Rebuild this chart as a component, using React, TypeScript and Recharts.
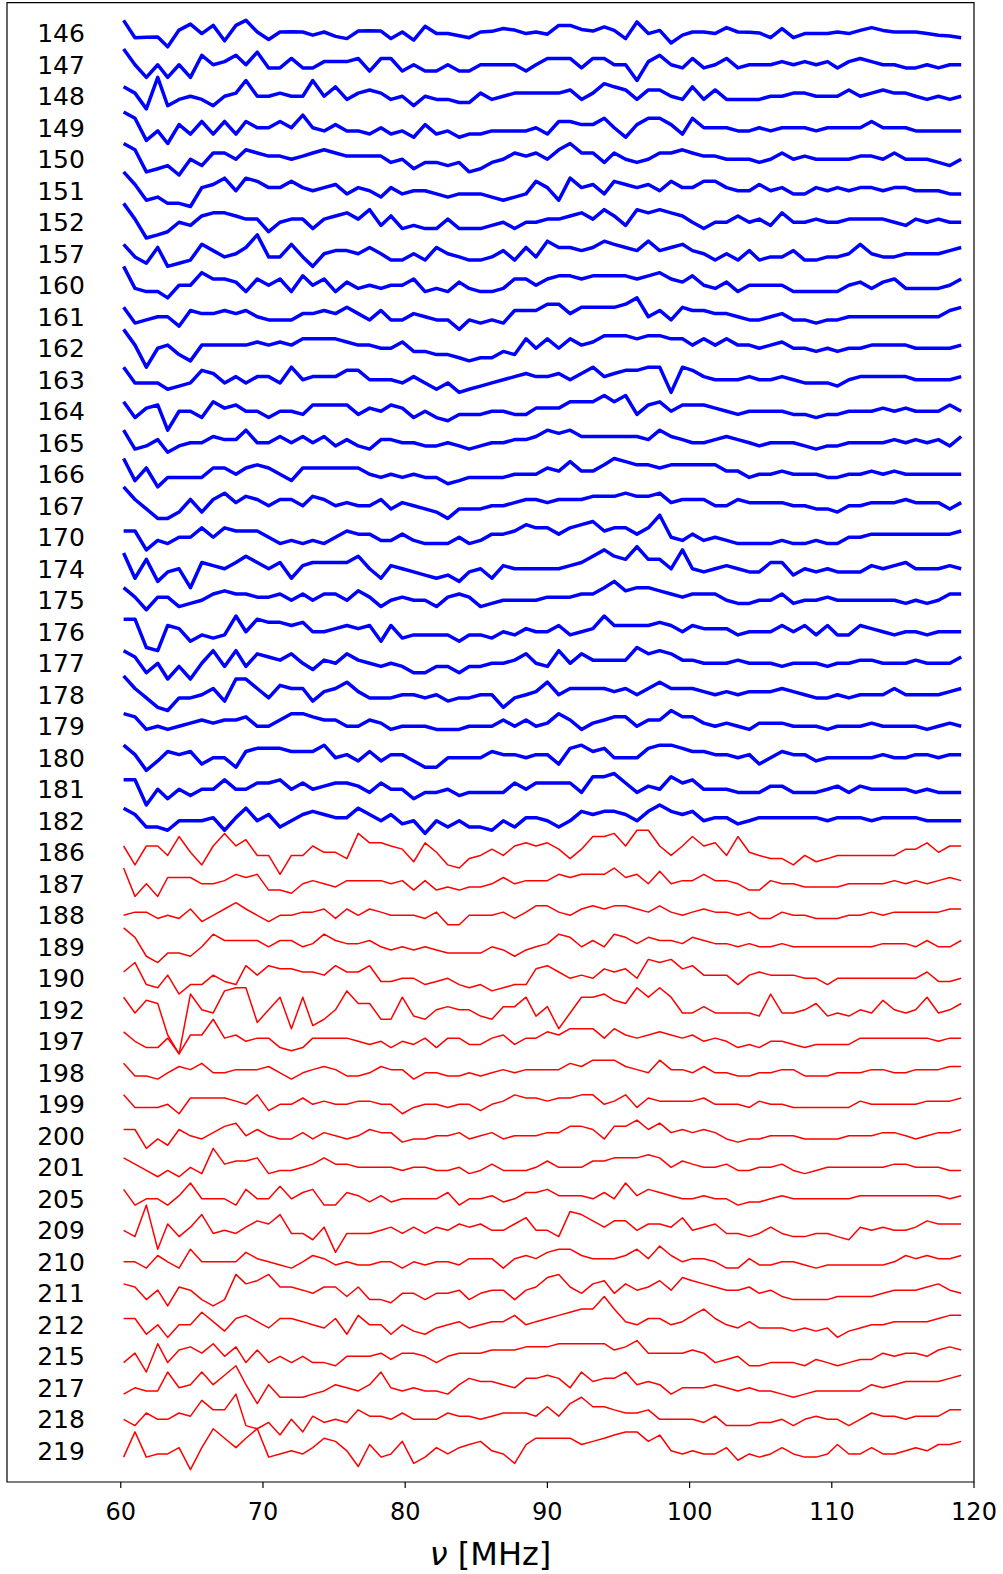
import { Line, LineChart, ReferenceArea, ReferenceDot, XAxis, YAxis } from "recharts";

const freqs = [
  60.2, 61.0, 61.8, 62.6, 63.3, 64.1, 64.9, 65.7, 66.5, 67.3, 68.1, 68.8, 69.6, 70.4, 71.2, 72.0, 72.8, 73.5, 74.3,
  75.1, 75.9, 76.7, 77.5, 78.3, 79.0, 79.8, 80.6, 81.4, 82.2, 83.0, 83.8, 84.5, 85.3, 86.1, 86.9, 87.7, 88.5, 89.2,
  90.0, 90.8, 91.6, 92.4, 93.2, 94.0, 94.7, 95.5, 96.3, 97.1, 97.9, 98.7, 99.5, 100.2, 101.0, 101.8, 102.6, 103.4,
  104.2, 104.9, 105.7, 106.5, 107.3, 108.1, 108.9, 109.7, 110.4, 111.2, 112.0, 112.8, 113.6, 114.4, 115.2, 115.9,
  116.7, 117.5, 118.3, 119.1,
];

const blueIds = ["146", "147", "148", "149", "150", "151", "152", "157", "160", "161", "162", "163", "164", "165", "166", "167", "170", "174", "175", "176", "177", "178", "179", "180", "181", "182"];
const redIds = ["186", "187", "188", "189", "190", "192", "197", "198", "199", "200", "201", "205", "209", "210", "211", "212", "215", "217", "218", "219"];

const xTicks = [60, 70, 80, 90, 100, 110, 120];

// deviations from each trace's own baseline, positive = downward
const d146 = [-4.1,1.4,1.3,1.2,4.3,-1,-2.9,0.1,-2.5,2.4,-2.5,-4.1,-0.4,2,-0.4,-0.5,-0.4,0.6,-0.4,1,1.7,-0.7,-0.8,-0.7,1.7,-0.4,2.2,-2.2,0.1,0.1,0.8,1.4,-0.4,-0.6,-1.5,-1,0.1,-0.4,0.3,-2.5,-2.5,-1.2,-0.7,-2,-0.9,1.7,-3.6,0.1,-0.9,3.1,0.6,-0.4,-0.4,0.1,-1.8,-0.4,-0.3,-0.1,1.4,-1.5,1.4,0.1,0.1,0.1,-0.4,0.1,-0.9,-1.8,-0.9,-0.4,-0.4,-0.4,0.1,0.6,0.9,1.4];
const d147 = [-5,0,4,0,4,0,4,-3,0,-1,-3,0,-4,1,1,-2,1,1,-1,-1,-1,-2,2,-2,-2,2,0,2,2,0,2,2,0,0,0,0,2,0,-2,-2,-2,1,-2,-2,0,0,5,-1,-3,0,1,-2,1,0,-2,1,0,0,0,-1,0,-1,0,-1,1,-1,-2,-1,0,0,1,1,0,1,0,0];
const d148 = [-3,-1,4,-6,3,1,0,1,3,0,-1,-5,0,0,-1,0,0,-5,0,-3,1,-1,-2,-1,1,0,3,0,1,1,2,2,-1,1,0,-1,-1,-1,-1,-1,-2,1,-1,-4,-3,-2,1,-2,-2,0,1,-3,1,-2,1,1,1,1,0,0,-1,-1,0,0,0,-2,0,-1,-2,-1,-1,0,1,0,1,0];
const d149 = [-5,-3,4,1,5,-1,2,-2,2,-2,2,-2,0,0,-2,0,-4,0,1,-1,1,1,2,0,2,1,3,-1,2,1,3,2,2,1,1,1,1,0,2,-2,-2,-1,-1,-3,0,3,-1,-3,-3,-1,2,-3,0,0,0,1,1,0,1,0,0,0,1,0,0,0,0,-2,0,0,0,1,1,1,1,1];
const d150 = [-5,-3,4,3,2,5,0,2,-2,-2,0,-3,-2,-1,-1,0,-1,-2,-3,-2,-1,-1,-1,-1,1,0,3,1,1,2,1,4,3,1,0,-2,-1,-2,0,-3,-5,-2,-2,1,-2,0,1,0,-2,-2,-3,-2,-1,-1,0,0,0,1,0,-2,0,-1,0,0,0,0,-1,-1,0,-2,0,0,0,1,2,0];
const d151 = [-6,-2,3,2,4,4,5,-1,-2,-4,0,-4,-3,-1,-1,-3,-1,0,-1,-2,1,-1,0,2,-1,1,0,0,1,2,1,1,1,2,3,2,1,-3,-1,3,-4,-1,-2,1,-3,-2,-1,-2,0,-3,-1,-1,-3,-3,-1,0,0,-2,0,-1,1,1,-1,0,-1,0,-1,-1,0,-1,-1,0,0,0,1,1];
const d152 = [-6,-1,5,4,3,0,1,-2,-3,-3,-2,-1,-1,3,0,-1,-1,2,-1,-2,-3,-1,-4,1,-2,2,1,2,2,-1,2,2,2,1,0,2,0,0,-1,-1,-2,-3,-1,-4,-2,1,-4,-3,-4,-3,-2,0,2,0,0,-2,0,-1,1,-3,0,0,-1,0,0,-1,-1,-1,-1,0,1,-1,0,-1,0,0];
const d157 = [-3,1,3,-2,4,3,2,-3,-1,1,0,-2,-6,1,1,-3,1,4,0,-1,-1,0,-2,0,2,2,0,2,-2,0,1,2,2,1,-1,2,-2,1,-4,-2,-2,-1,-2,-4,-3,-2,-1,-4,-1,-2,-3,-1,0,2,0,2,-1,2,1,1,-1,2,2,1,1,0,-3,0,1,1,0,0,0,0,-1,-2];
const d160 = [-6,1,2,2,4,0,0,-4,-2,-2,-1,2,-2,0,-2,2,-3,0,-2,2,-1,1,0,1,0,0,-2,2,1,2,-1,1,2,2,1,-2,-2,0,-2,-3,-3,-2,-3,-3,-3,-3,-2,-3,-4,-2,-1,-3,0,1,-1,2,0,0,0,0,2,2,2,2,2,0,-1,1,-1,-2,1,1,1,1,0,-2];
const d161 = [-3,2,1,0,0,3,-2,-1,-1,-2,-1,-2,0,1,1,1,-1,-1,-2,-1,-3,-1,1,-2,1,1,-1,0,1,1,4,1,2,1,2,-2,-2,-2,-4,-4,-1,-3,-3,-3,-3,-4,-6,0,-2,1,-3,-2,-2,-1,-1,0,1,1,0,-1,1,1,2,1,1,0,0,0,0,0,0,0,0,0,-2,-3];
const d162 = [-6,-1,6,0,-1,2,4,-1,-1,-1,-1,-1,-2,-1,-2,-1,-3,-3,-3,-3,-2,-1,-1,0,0,-2,1,1,2,2,3,4,3,3,1,2,-3,0,-3,0,-3,-1,-2,-4,-4,-4,-3,-4,-4,-3,-3,-1,-3,-1,-3,-1,-1,0,-1,-2,0,0,1,0,1,0,0,-1,-1,-1,-1,0,0,0,0,-1];
const d163 = [-4,1,1,1,3,2,1,-3,-2,1,-1,1,-1,-1,1,-4,0,-1,-1,-1,-3,-3,0,0,0,1,-1,1,3,1,4,3,2,1,0,-1,-2,-1,-1,-2,0,-2,-4,-1,-2,-3,-3,-4,-4,4,-4,-3,-1,0,0,0,-1,0,0,-1,0,1,1,1,2,0,-1,-1,-1,-1,-1,0,0,0,0,-1];
const d164 = [-3,2,-1,-2,6,0,0,2,-3,-1,-2,0,0,2,0,0,1,-2,-2,-2,-2,1,-1,0,-2,-1,2,0,2,3,1,1,1,0,0,1,1,-1,-1,-1,-3,-3,-3,-5,-3,-5,1,-2,-3,0,-2,-2,-2,-1,0,1,0,0,0,0,1,1,2,1,1,0,0,0,-1,0,-1,0,0,0,-2,0];
const d165 = [-4,2,1,-1,3,1,0,0,-2,-1,-1,-4,0,0,-2,0,-2,0,-2,1,-1,1,2,-1,-1,0,0,1,1,0,1,2,1,0,0,-1,-1,-2,-4,-3,-4,-2,-2,-2,-2,-2,-2,-1,-4,-2,-1,0,0,-1,-2,-1,0,1,0,0,0,1,2,1,1,0,0,0,0,-1,0,-1,0,-1,1,-2];
const d166 = [-5,2,-2,4,1,1,1,1,-2,-2,0,-2,-3,-2,0,2,-2,-2,-2,-2,-2,-2,0,1,0,1,0,1,1,3,2,1,1,1,1,0,0,0,-2,-1,-4,-1,-1,-3,-5,-4,-3,-3,-2,-3,-3,-3,-3,-3,-1,-1,1,0,0,-1,0,0,0,1,1,0,0,-1,0,-1,0,0,0,0,0,0];
const d167 = [-6,-2,1,4,4,2,-2,2,-2,-4,-1,-3,-2,0,-2,-2,0,-3,-2,0,-1,0,0,-2,1,-1,0,1,2,4,1,1,1,0,0,-1,-2,-2,-1,-2,-2,-2,-3,-3,-3,-4,-3,-3,-4,-1,-2,-2,-2,0,0,-2,-1,-1,-1,-1,0,0,1,1,2,0,0,-1,-1,-1,-2,-1,-1,-1,1,-1];
const d170 = [-2,-2,4,1,2,0,0,-3,0,-3,-2,-2,-2,0,2,1,2,1,2,0,-2,-1,-1,1,1,-1,1,2,2,2,0,2,1,-1,-1,-2,-4,-3,-3,-1,-3,-4,-5,-2,-3,-3,-1,-3,-7,0,1,-1,1,0,1,2,2,2,2,1,2,2,1,2,2,0,0,-1,-1,-1,-1,-1,-1,-1,-1,-2];
const d174 = [-5,3,-3,4,1,0,6,-2,-1,0,-2,-4,-2,0,-2,3,-1,-2,-2,-2,-2,-4,0,3,-1,0,1,2,3,2,4,1,0,3,-1,0,0,0,0,0,-1,-2,-4,-6,-4,-3,-7,-3,-3,0,-6,0,1,0,-1,0,1,1,-2,-2,2,0,1,0,1,1,1,-1,0,-1,-2,0,0,0,-1,0];
const d175 = [-4,-1,3,-1,-1,2,1,0,-2,-3,-2,-2,-1,-1,-2,0,-2,0,-2,-2,0,-3,-1,2,0,-1,0,0,2,-1,-2,-1,2,1,0,0,0,0,-1,-1,-1,-2,-2,-4,-6,-3,-4,-4,-3,-2,-1,-2,-2,-2,0,1,1,0,0,-2,1,0,0,-1,0,0,0,0,0,0,1,0,1,0,-2,-2];
const d176 = [-4,-4,5,6,-2,-1,3,1,2,1,-5,0,-4,-3,-3,-2,-3,0,0,-1,-2,-1,-2,3,-2,2,1,1,1,1,3,1,1,2,0,1,-1,0,0,-2,1,0,-1,-5,-2,-2,-2,-2,-3,-2,0,-2,-1,-1,-1,1,0,0,0,-2,0,-2,1,-2,1,1,-2,-1,0,1,0,0,1,0,0,0];
const d177 = [-4,-2,3,0,5,1,5,0,-4,1,-4,1,-3,-2,-1,-3,0,2,-1,0,-3,-1,0,1,0,1,3,3,1,1,3,1,1,0,0,-1,-3,0,1,-4,0,-3,-1,-1,-1,-1,-5,-3,-4,-3,-1,-1,0,0,0,-1,0,0,0,1,0,0,0,1,0,0,-1,-1,0,0,0,-1,0,0,0,-2];
const d178 = [-6,-2,1,4,5,1,1,0,-2,2,-5,-5,-2,1,-3,-2,-2,2,-1,-2,-4,-1,1,1,1,0,0,1,0,2,1,1,0,0,4,1,0,-1,-4,0,-2,-2,-2,-2,-1,-2,0,-2,-4,-2,-2,-2,-1,0,-1,0,-1,-1,-1,-2,-1,0,1,1,0,1,0,0,0,-2,0,0,0,0,-1,-2];
const d179 = [-4,-3,1,0,1,0,-1,-2,-1,-2,-2,-3,0,0,-2,-4,-4,-3,-2,-2,0,0,-2,-1,1,0,0,0,1,1,1,0,0,0,-2,0,-2,0,-1,-4,-2,1,-1,-2,-3,-3,0,-2,-2,-5,-3,-3,-1,0,-1,0,1,-1,-1,-1,0,0,0,1,0,0,0,-1,0,0,0,0,1,0,-1,0];
const d180 = [-4,-1,4,1,-2,-1,-2,2,0,0,3,-2,-3,-3,-3,-2,-2,-2,-4,0,-1,1,-2,1,-1,-1,1,3,3,0,0,0,0,-2,-1,-1,0,-1,-1,2,-3,-4,-2,-3,0,0,0,-3,-4,-4,-3,-2,-2,-1,-1,0,-1,2,0,-2,-1,-1,1,0,0,0,0,0,-1,0,0,-1,-1,0,-1,-1];
const d181 = [-3,-3,5,0,3,0,2,0,0,-3,0,0,-2,-2,-3,0,-2,0,-1,-2,-2,-1,1,-2,0,0,3,1,1,0,2,1,1,1,1,-2,0,-2,-2,-2,-2,1,-4,-4,-5,-2,1,-1,0,-4,-2,-3,0,0,0,1,1,1,-1,-1,1,1,1,0,-1,1,-1,0,0,0,0,1,0,1,1,1];
const d182 = [-4,-2,2,2,3,0,0,0,-1,3,-1,-4,0,-2,2,0,-2,-3,-2,-1,-1,-4,-2,0,-2,1,0,4,0,2,0,2,2,3,0,2,-1,-1,0,2,0,-3,-2,-3,-3,-2,0,-3,-5,-3,-2,-3,0,-1,-1,1,0,-1,-1,-1,-1,-1,-1,0,-1,-1,-1,0,-1,-1,-1,-1,0,0,0,0];
const d186 = [-2,4,-2,-2,1,-5,0,4,-2,-6,-2,-4,1,1,7,1,1,-2,0,0,2,-6,-3,-3,-2,-1,3,-3,0,4,5,2,1,-1,1,-2,-3,-2,-3,-1,2,-1,-5,-5,-6,-2,-7,-7,-2,1,-2,-5,-2,-3,1,-5,0,1,2,2,4,1,3,2,1,1,1,1,1,1,-1,-1,-3,0,-2,-2];
const d187 = [-5,4,0,4,-2,-2,-2,0,0,-1,-3,-2,-3,2,2,3,0,-1,0,1,-1,-1,-1,-1,0,-1,2,-1,2,1,2,1,1,0,-2,0,-1,-1,-1,-3,-2,-3,-3,-3,-5,-2,-3,0,-4,0,-1,-1,-3,-1,-1,0,2,2,-1,0,0,1,1,1,1,0,0,0,0,-1,0,-1,0,-1,-2,-1];
const d188 = [0,-1,-1,1,0,1,-2,2,0,-2,-4,-2,0,2,0,0,-1,-1,-2,1,-2,0,-2,-1,0,0,0,1,-1,3,3,0,0,0,-1,1,-1,-3,-3,-1,0,-2,-3,-2,-3,-3,-2,-1,-3,-1,0,-1,-2,-1,-1,0,-1,1,1,-1,0,0,1,1,1,0,0,-1,0,-1,-1,-1,-1,-1,-2,-2];
const d189 = [-6,-3,3,5,2,2,3,0,-4,-2,-2,-2,-2,0,-2,-2,0,-1,-4,-2,-1,-1,-2,0,1,0,1,0,1,2,2,2,2,0,1,3,1,0,-1,-4,-3,0,-2,0,-4,-3,-1,-3,-2,-2,-1,-3,-2,-1,-1,0,-1,0,0,-1,0,0,0,0,0,0,0,0,-1,-1,-1,0,-2,0,0,-2];
const d190 = [-2,-5,2,3,-1,5,2,2,-1,1,2,-4,-1,-4,-3,-3,-2,-2,-1,-4,-2,-2,-4,1,1,0,0,2,1,0,2,3,2,4,3,2,2,-3,-4,-2,0,-1,0,-3,-2,-3,0,-6,-5,-6,-3,-4,-1,-1,-1,2,-1,-2,-1,-1,-1,0,0,2,0,0,0,0,0,0,0,0,-2,1,1,0];
const d192 = [-4,1,-3,-2,8,14,-5,0,1,-6,-7,-7,4,0,-4,6,-4,5,3,0,-6,-2,-2,3,3,-4,2,3,0,-1,0,0,2,3,-1,-1,-4,2,-1,6,1,-4,-4,-5,-3,-2,-7,-4,-7,-4,1,1,-1,1,1,1,1,2,-5,1,1,0,-2,2,1,2,0,1,-3,0,1,0,-4,1,0,-2];
const d197 = [-3,0,2,2,-1,4,-2,-2,-7,-1,-2,0,-1,-1,2,3,2,-1,-1,-1,-1,0,1,0,2,0,1,-1,2,-1,-1,1,1,-1,-2,1,-1,-1,-3,-2,-4,-4,-4,-1,-4,-2,-1,-2,-3,-2,-1,-2,0,-1,0,2,1,2,0,0,1,2,1,1,1,1,-1,-1,-1,-1,-1,-1,-1,0,-1,-1];
const d198 = [-3,1,1,2,0,-2,-1,-3,0,0,-1,-1,-1,-2,0,2,0,-1,-2,-1,1,1,0,-2,-1,-1,2,0,0,1,1,0,1,0,-1,0,-1,-1,-1,-1,-3,-2,-4,-4,-4,-2,-1,0,-4,-1,-1,0,-2,0,0,1,1,0,0,-1,-1,1,1,1,0,0,0,-1,-1,0,0,-1,-1,-1,-2,-2];
const d199 = [-3,1,1,1,0,3,-2,-2,-2,-2,-1,0,-3,2,0,0,-2,0,-1,0,0,-1,-1,0,0,3,1,0,0,1,0,0,2,0,-1,-3,-2,-2,-1,-2,-2,-3,-3,0,-1,-3,1,-2,-1,-1,-1,-1,-2,0,0,0,1,-1,0,0,1,1,1,1,1,1,-1,0,0,0,0,0,-1,-1,-1,-2];
const d200 = [-2,-2,4,1,3,-2,0,1,-1,-3,-4,0,-2,0,1,1,-1,1,-1,0,1,0,-2,-1,-1,2,1,1,0,0,-1,1,0,-1,1,0,0,0,-1,-1,-3,-3,-2,1,-3,-3,-5,-2,-4,-1,-2,-1,-2,-1,1,2,1,1,0,0,0,1,1,1,1,0,0,0,-1,-1,0,1,0,-1,-1,-2];
const d201 = [-3,-1,1,3,1,3,0,2,-6,-1,-2,-2,-3,2,1,1,0,-1,-3,-1,-1,0,0,0,0,1,0,0,1,1,0,2,1,-1,1,1,1,0,-2,0,0,0,-2,-2,-3,-3,-3,-4,-3,0,-2,-1,0,0,-1,1,1,0,0,-1,1,2,1,0,0,0,0,0,0,-1,-1,0,0,0,1,1];
const d205 = [-3,2,0,0,2,-1,-5,0,0,0,2,-3,0,0,-4,0,-2,-3,2,2,-2,-1,1,-1,1,0,0,0,0,-2,2,0,0,-1,1,0,-2,-2,-3,-1,-1,-1,0,-2,0,-5,-1,-3,-2,-1,0,0,-1,0,0,2,1,1,0,-1,0,0,0,0,0,0,-1,-1,-1,-1,-1,-1,-1,-1,0,-1];
const d209 = [0,2,-8,6,-2,2,-1,-5,1,0,1,-1,-3,-2,-5,1,1,3,-1,7,1,1,1,0,-1,1,-1,1,-1,0,-2,-1,-2,0,0,-2,-4,0,0,2,-6,-5,-3,-1,-3,-3,0,-2,-2,-1,-4,0,-1,-2,1,1,2,1,-1,1,2,2,1,1,2,3,-1,0,-1,0,0,-1,-3,-2,-2,-2];
const d210 = [0,0,2,-2,0,2,-4,0,0,0,0,-3,-1,0,1,2,0,-2,-1,1,0,1,1,0,0,2,0,1,0,0,1,-1,-1,-1,2,-1,-2,-1,-3,-4,-4,-2,-1,-1,-1,-2,-4,-1,-5,-2,0,-1,-1,0,2,2,-1,1,1,0,0,1,2,1,1,1,1,1,1,0,-2,-1,-2,-1,-1,-2];
const d211 = [-3,-2,2,-1,4,-2,-1,2,4,2,-6,-3,-4,-6,-2,-2,-1,0,-2,-2,1,-2,2,2,3,0,0,2,0,0,-1,2,0,-1,-1,2,-1,-2,-5,-6,-2,0,-3,-4,0,-3,-1,-2,-4,-1,-5,-4,-3,-2,-1,-1,-2,0,-1,1,2,2,2,2,1,1,1,1,0,-1,-1,-1,-2,-3,-1,0];
const d212 = [-2,-2,3,0,4,0,0,-4,-1,2,-2,-3,-1,1,-2,-2,-1,0,1,-2,3,-3,0,0,3,0,2,3,1,0,-1,1,0,-1,-1,-3,0,-1,-2,-3,-4,-5,-5,-9,-5,-1,0,-2,-2,0,-1,-3,-5,-2,0,1,-1,1,1,1,2,1,2,1,4,2,1,0,0,-1,-1,-1,-1,-2,-3,-3];
const d215 = [2,-1,5,-4,2,-2,-3,-1,-4,0,-3,2,-2,2,0,2,0,2,2,3,0,0,0,-1,1,-1,-1,0,2,0,-1,-1,-1,-2,-2,-2,-3,-3,-3,-4,-4,-4,-4,-4,-2,-3,-5,-1,-1,-1,-1,-2,-1,2,1,0,3,3,2,2,2,3,1,2,3,2,1,1,-1,0,-1,-1,0,-2,-3,-2];
const d217 = [2,0,1,1,-5,0,-1,-5,-1,-4,-7,-1,5,-1,3,3,3,2,1,-1,0,1,-1,-5,0,1,0,1,1,2,-1,-3,-2,-2,-1,0,-3,-3,-4,-3,0,-5,-2,-3,-3,-5,-1,-2,-1,2,0,0,0,-1,0,1,0,1,1,2,3,2,1,1,1,1,1,-1,0,-1,-2,-2,-2,-2,-3,-4];
const d218 = [0,2,-2,0,0,-2,-1,-6,-3,-3,-8,2,3,1,5,0,4,-1,1,0,1,-3,-1,-1,0,-2,0,0,0,-2,-1,-1,0,-1,-2,-2,-2,-1,-4,-1,-5,-7,-4,-4,-3,-2,-2,-3,0,0,0,0,1,-1,2,2,2,1,1,0,2,0,-1,0,0,2,0,-2,-1,-1,0,-1,-1,-1,-3,-3];
const d219 = [2,-6,2,1,1,-1,6,-1,-7,-4,-1,-4,-7,2,1,0,1,-1,-4,-3,0,5,-2,2,1,-3,4,2,-1,1,-1,-2,-3,0,1,4,-2,-4,-4,-4,-4,-2,-3,-4,-5,-6,-6,-3,-5,0,1,0,1,1,-1,3,1,2,1,-1,1,2,2,1,-2,1,1,-1,1,1,0,-1,0,-2,-2,-3];

const traces = [
  d146, d147, d148, d149, d150, d151, d152, d157, d160, d161, d162, d163, d164, d165, d166, d167, d170, d174, d175,
  d176, d177, d178, d179, d180, d181, d182, d186, d187, d188, d189, d190, d192, d197, d198, d199, d200, d201, d205,
  d209, d210, d211, d212, d215, d217, d218, d219,
];

const names = [...blueIds, ...redIds];

// each trace sits on its own row, 10 units apart
const rows = freqs.map((f, i) => {
  const row: Record<string, number> = { f };
  traces.forEach((t, k) => {
    row[`s${k}`] = k * 10 + t[i];
  });
  return row;
});

const font = "DejaVu Sans";
const labelX = 55.8;

function AxisTitle(props: any) {
  const vb = props.viewBox;
  return (
    <text x={vb.x + vb.width / 2} y={vb.y + vb.height - 9} textAnchor="middle" fontSize={32} fontFamily={font} fill="#000">
      <tspan fontStyle="italic">ν</tspan> [MHz]
    </text>
  );
}

export default function App() {
  return (
    <div style={{ width: 1003, height: 1574, background: "#fff" }}>
      <style>{"body{margin:0}"}</style>
      <LineChart width={1003} height={1574} data={rows} margin={{ top: 2.7, right: 29, left: 7, bottom: 0 }}>
        <XAxis
          dataKey="f"
          type="number"
          domain={[52, 120]}
          ticks={xTicks}
          interval={0}
          allowDataOverflow
          axisLine={false}
          tickLine={{ stroke: "#000", strokeWidth: 1.2 }}
          tickSize={6}
          tickMargin={15}
          height={92}
          tick={{ fontSize: 24, fontFamily: font, fill: "#000" }}
          label={<AxisTitle />}
        />
        <YAxis type="number" reversed domain={[-9.7, 459.9]} allowDataOverflow hide />
        {traces.map((_, k) => (
          <Line
            key={names[k]}
            dataKey={`s${k}`}
            type="linear"
            stroke={k < blueIds.length ? "#0000ff" : "#ff0000"}
            strokeWidth={k < blueIds.length ? 3.5 : 1.5}
            strokeLinejoin="round"
            dot={false}
            activeDot={false}
            isAnimationActive={false}
          />
        ))}
        {names.map((name, k) => (
          <ReferenceDot
            key={`lbl-${name}`}
            x={labelX}
            y={k * 10}
            r={0}
            fill="none"
            stroke="none"
            label={{ value: name, position: "center", fontSize: 25, fontFamily: font, fill: "#000" }}
          />
        ))}
        <ReferenceArea x1={52} x2={120} y1={-9.7} y2={459.9} fill="none" stroke="#000" strokeWidth={1.2} />
      </LineChart>
    </div>
  );
}
